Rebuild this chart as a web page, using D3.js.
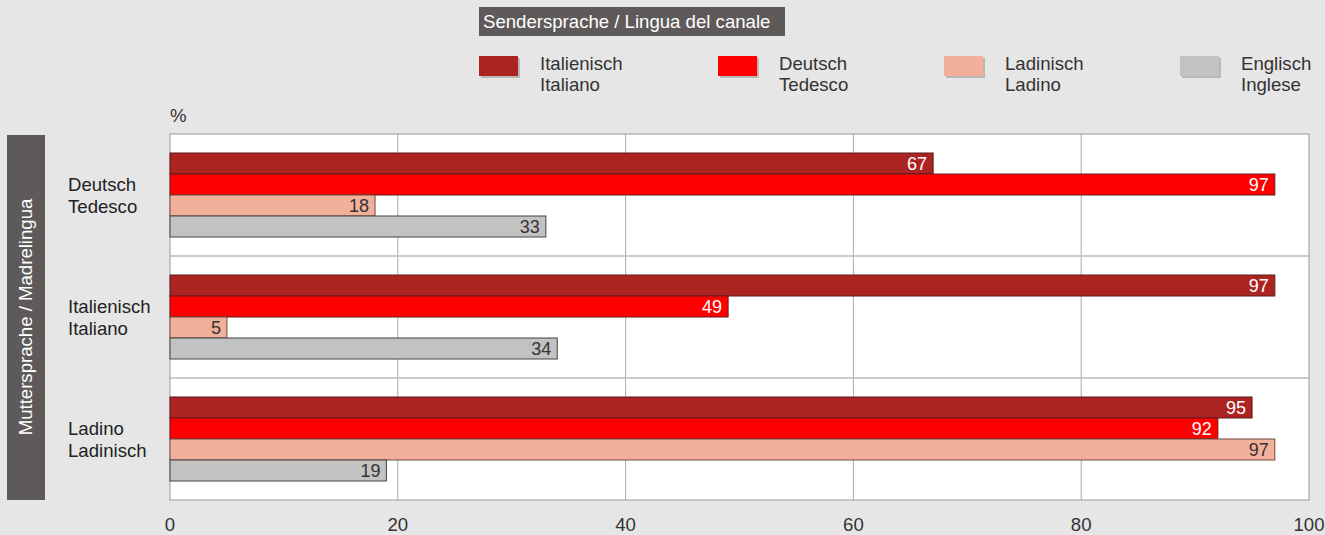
<!DOCTYPE html>
<html>
<head>
<meta charset="utf-8">
<script src="https://cdn.jsdelivr.net/npm/d3@7"></script>
<style>
  html, body { margin: 0; padding: 0; background: #e6e6e6; }
  svg { display: block; font-family: "Liberation Sans", Arial, sans-serif; }
</style>
</head>
<body>
<svg id="chart" width="1325" height="535"></svg>
<script>
const categories = [["Deutsch", "Tedesco"], ["Italienisch", "Italiano"], ["Ladino", "Ladinisch"]];
const seriesNames = [["Italienisch", "Italiano"], ["Deutsch", "Tedesco"], ["Ladinisch", "Ladino"], ["Englisch", "Inglese"]];
const italienisch = [67, 97, 95];
const deutsch = [97, 49, 92];
const ladinisch = [18, 5, 97];
const englisch = [33, 34, 19];
const xTicks = [0, 20, 40, 60, 80, 100];
const seriesValues = [italienisch, deutsch, ladinisch, englisch];

(function () {
const colors = ["#ab2422", "#ff0000", "#f2b09b", "#c2c2c2"];
const strokes = ["#5a1a1a", "#6a1a1a", "#6a4a40", "#444444"];
const labelColors = ["#ffffff", "#ffffff", "#333333", "#333333"];
const fs = 18.6;

const svg = d3.select("#chart");
const pLeft = 170, pRight = 1309, pTop = 134, pBottom = 500;

const x = d3.scaleLinear().domain([0, 100]).range([pLeft, pRight]);
const y = d3.scaleBand().domain(categories.map((d, i) => i)).range([pTop, pBottom]).padding(0);
const yInner = d3.scaleBand().domain(d3.range(4)).range([0, y.bandwidth()]).paddingInner(0).paddingOuter(0.905);

// Title box
svg.append("rect").attr("x", 479).attr("y", 7).attr("width", 306).attr("height", 29).attr("fill", "#5f5a5a");
svg.append("text").attr("x", 483).attr("y", 28).attr("fill", "#fff").attr("font-size", fs)
  .text("Sendersprache / Lingua del canale");

// Legend
const legendX = [479, 718, 944, 1180];
seriesNames.forEach((n, i) => {
  const g = svg.append("g").attr("transform", `translate(${legendX[i]},56)`);
  g.append("rect").attr("x", 2).attr("y", 2).attr("width", 39).attr("height", 20).attr("fill", "#b8b8b8");
  g.append("rect").attr("width", 39).attr("height", 20).attr("fill", colors[i]);
  g.append("text").attr("x", 61).attr("y", 14).attr("font-size", fs).attr("fill", "#333").text(n[0]);
  g.append("text").attr("x", 61).attr("y", 35).attr("font-size", fs).attr("fill", "#333").text(n[1]);
});

// % label
svg.append("text").attr("x", 170).attr("y", 122).attr("font-size", fs).attr("fill", "#333").text("%");

// Plot background
svg.append("rect").attr("x", pLeft).attr("y", pTop).attr("width", pRight - pLeft).attr("height", pBottom - pTop)
  .attr("fill", "#fff");

// vertical gridlines
svg.append("g").selectAll("line").data(xTicks.slice(1, -1)).join("line")
  .attr("x1", d => x(d)).attr("x2", d => x(d)).attr("y1", pTop).attr("y2", pBottom)
  .attr("stroke", "#aaaaaa").attr("stroke-width", 1);

// horizontal separators
svg.append("g").selectAll("line").data(categories.slice(1).map((d, i) => i + 1)).join("line")
  .attr("x1", pLeft).attr("x2", pRight).attr("y1", d => y(d)).attr("y2", d => y(d))
  .attr("stroke", "#bbbbbb").attr("stroke-width", 1.5);

// border
svg.append("rect").attr("x", pLeft).attr("y", pTop).attr("width", pRight - pLeft).attr("height", pBottom - pTop)
  .attr("fill", "none").attr("stroke", "#999").attr("stroke-width", 1);

// bars
categories.forEach((c, ci) => {
  seriesValues.forEach((vals, si) => {
    const v = vals[ci];
    const by = y(ci) + yInner(si);
    const bh = yInner.bandwidth();
    svg.append("rect").attr("x", x(0)).attr("y", by).attr("width", x(v) - x(0)).attr("height", bh)
      .attr("fill", colors[si]).attr("stroke", strokes[si]).attr("stroke-width", 1);
    svg.append("text").attr("x", x(v) - 6).attr("y", by + bh / 2 + 6.5).attr("text-anchor", "end")
      .attr("font-size", 18).attr("fill", labelColors[si]).text(v);
  });
  const cy = y(ci) + y.bandwidth() / 2;
  svg.append("text").attr("x", 68).attr("y", cy - 4).attr("font-size", fs).attr("fill", "#222").text(c[0]);
  svg.append("text").attr("x", 68).attr("y", cy + 18).attr("font-size", fs).attr("fill", "#222").text(c[1]);
});

// x axis tick labels
svg.append("g").selectAll("text").data(xTicks).join("text")
  .attr("x", d => x(d)).attr("y", 531).attr("text-anchor", "middle").attr("font-size", fs).attr("fill", "#333")
  .text(d => d);

// y label box
svg.append("rect").attr("x", 7).attr("y", 135).attr("width", 38).attr("height", 365).attr("fill", "#5f5a5a");
svg.append("text").attr("transform", "translate(32,317) rotate(-90)").attr("text-anchor", "middle")
  .attr("font-size", fs).attr("fill", "#fff").text("Muttersprache / Madrelingua");
})();
</script>
</body>
</html>
